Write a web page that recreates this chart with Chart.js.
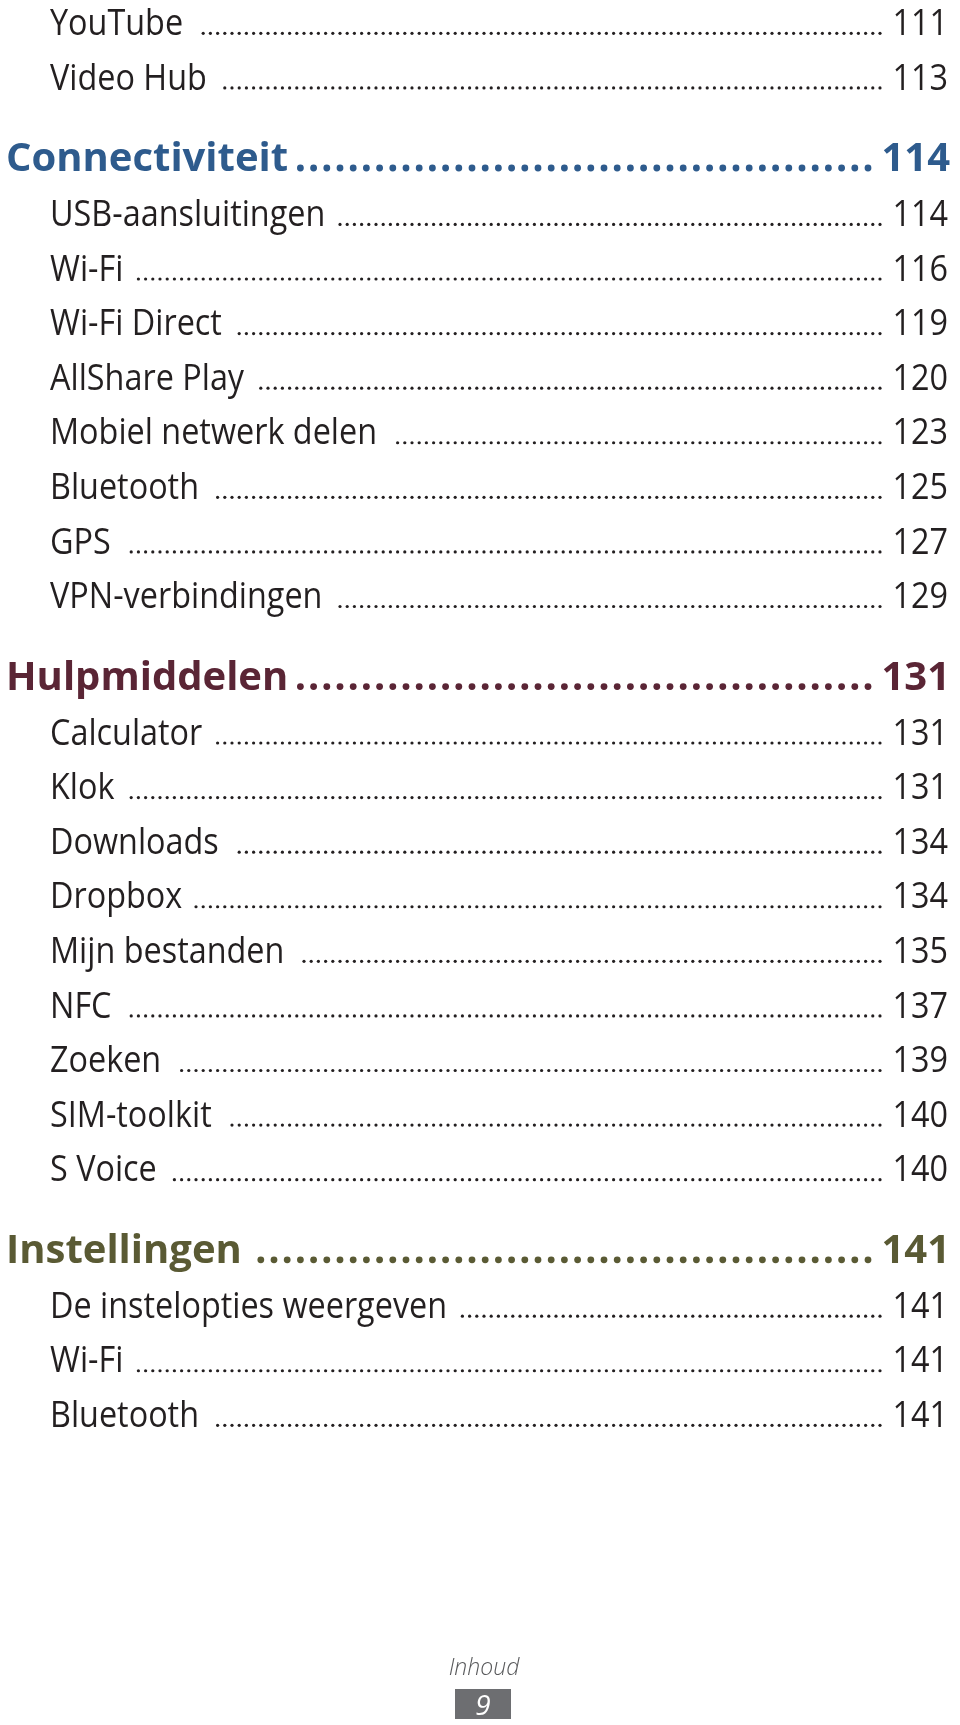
<!DOCTYPE html>
<html>
<head>
<meta charset="utf-8">
<script src="https://cdn.jsdelivr.net/npm/chart.js@4.4.1/dist/chart.umd.min.js"></script>
<style>
  html, body { margin: 0; padding: 0; background: #fff; }
  #wrap { width: 960px; height: 1725px; position: relative; }
</style>
</head>
<body>
<div id="wrap"><canvas id="toc"></canvas></div>
<script>
  // inhoudsopgave: titels, paginanummers en welke regels hoofdstukken zijn
  const titles = [
    'YouTube', 'Video Hub',
    'Connectiviteit', 'USB-aansluitingen', 'Wi-Fi', 'Wi-Fi Direct', 'AllShare Play',
    'Mobiel netwerk delen', 'Bluetooth', 'GPS', 'VPN-verbindingen',
    'Hulpmiddelen', 'Calculator', 'Klok', 'Downloads', 'Dropbox', 'Mijn bestanden',
    'NFC', 'Zoeken', 'SIM-toolkit', 'S Voice',
    'Instellingen', 'De instelopties weergeven', 'Wi-Fi', 'Bluetooth'
  ];
  const pages = [111, 113, 114, 114, 116, 119, 120, 123, 125, 127, 129, 131, 131, 131, 134, 134, 135, 137, 139, 140, 140, 141, 141, 141, 141];
  const chapters = ['Connectiviteit', 'Hulpmiddelen', 'Instellingen'];
  const footerLabel = 'Inhoud';
  const pageNumber = '9';

  const chapterColors = ['#2e5b8d', '#5a2535', '#5a5a34'];
  const textColor = '#231f20';

  // regelnummer: elke regel 1 omlaag, een hoofdstuk krijgt een halve regel extra ervoor
  let chapterCount = 0;
  const rows = titles.map((title, i) => {
    const ch = chapters.indexOf(title);
    if (ch >= 0) chapterCount++;
    return { title, page: pages[i], chapter: ch, line: i + chapterCount * 0.5 };
  });

  const BODY_FONT = '37px "Open Sans"';
  const BODY_SX = 0.875;
  const HEAD_FONT = 'bold 40px "Open Sans"';
  const HEAD_SX = 1.0;

  function drawText(ctx, text, x, y, font, sx, color, align) {
    ctx.save();
    ctx.font = font;
    ctx.fillStyle = color;
    ctx.textBaseline = 'alphabetic';
    const w = ctx.measureText(text).width * sx;
    const left = align === 'right' ? x - w : x;
    ctx.translate(left, y);
    ctx.scale(sx, 1);
    ctx.fillText(text, 0, 0);
    ctx.restore();
    return left + w;
  }

  function drawLeader(ctx, fromX, toX, y, r, pitch, color) {
    ctx.save();
    ctx.fillStyle = color;
    for (let x = toX; x - r > fromX; x -= pitch) {
      ctx.beginPath();
      ctx.arc(x, y - r, r, 0, Math.PI * 2);
      ctx.fill();
    }
    ctx.restore();
  }

  const tocPlugin = {
    id: 'tocText',
    afterDatasetsDraw(chart) {
      const ctx = chart.ctx;
      const meta = chart.getDatasetMeta(0);
      meta.data.forEach((pt, i) => {
        const row = rows[i];
        const y = pt.y;
        if (row.chapter >= 0) {
          const color = chapterColors[row.chapter];
          const end = drawText(ctx, row.title, 6, y, HEAD_FONT, HEAD_SX, color, 'left');
          drawLeader(ctx, end + 7, 868, y, 3.4, 13.2, color);
          drawText(ctx, String(row.page), 950, y, HEAD_FONT, HEAD_SX, color, 'right');
        } else {
          const end = drawText(ctx, row.title, 50, y, BODY_FONT, BODY_SX, textColor, 'left');
          drawLeader(ctx, end + 12, 880, y, 1.6, 7.2, textColor);
          drawText(ctx, String(row.page), 948, y, BODY_FONT, BODY_SX, textColor, 'right');
        }
      });

      // voettekst
      ctx.save();
      ctx.font = 'italic 300 23px "Open Sans"';
      ctx.fillStyle = '#58595b';
      ctx.textAlign = 'center';
      ctx.fillText(footerLabel, 484, 1675);
      ctx.fillStyle = '#6d6e71';
      ctx.fillRect(455, 1689, 56, 30);
      ctx.font = 'italic 28px "Open Sans"';
      ctx.fillStyle = '#ffffff';
      ctx.fillText(pageNumber, 483, 1715);
      ctx.restore();
    }
  };

  new Chart(document.getElementById('toc'), {
    type: 'scatter',
    data: {
      datasets: [{ data: rows.map((r) => ({ x: 0, y: r.line })), pointRadius: 0, showLine: false }]
    },
    options: {
      responsive: true,
      maintainAspectRatio: false,
      animation: false,
      layout: { padding: 0 },
      plugins: { legend: { display: false }, tooltip: { enabled: false } },
      scales: {
        x: { display: false, min: 0, max: 1 },
        y: { display: false, reverse: true, min: -0.64, max: 30.96 }
      }
    },
    plugins: [tocPlugin]
  });
</script>
</body>
</html>
